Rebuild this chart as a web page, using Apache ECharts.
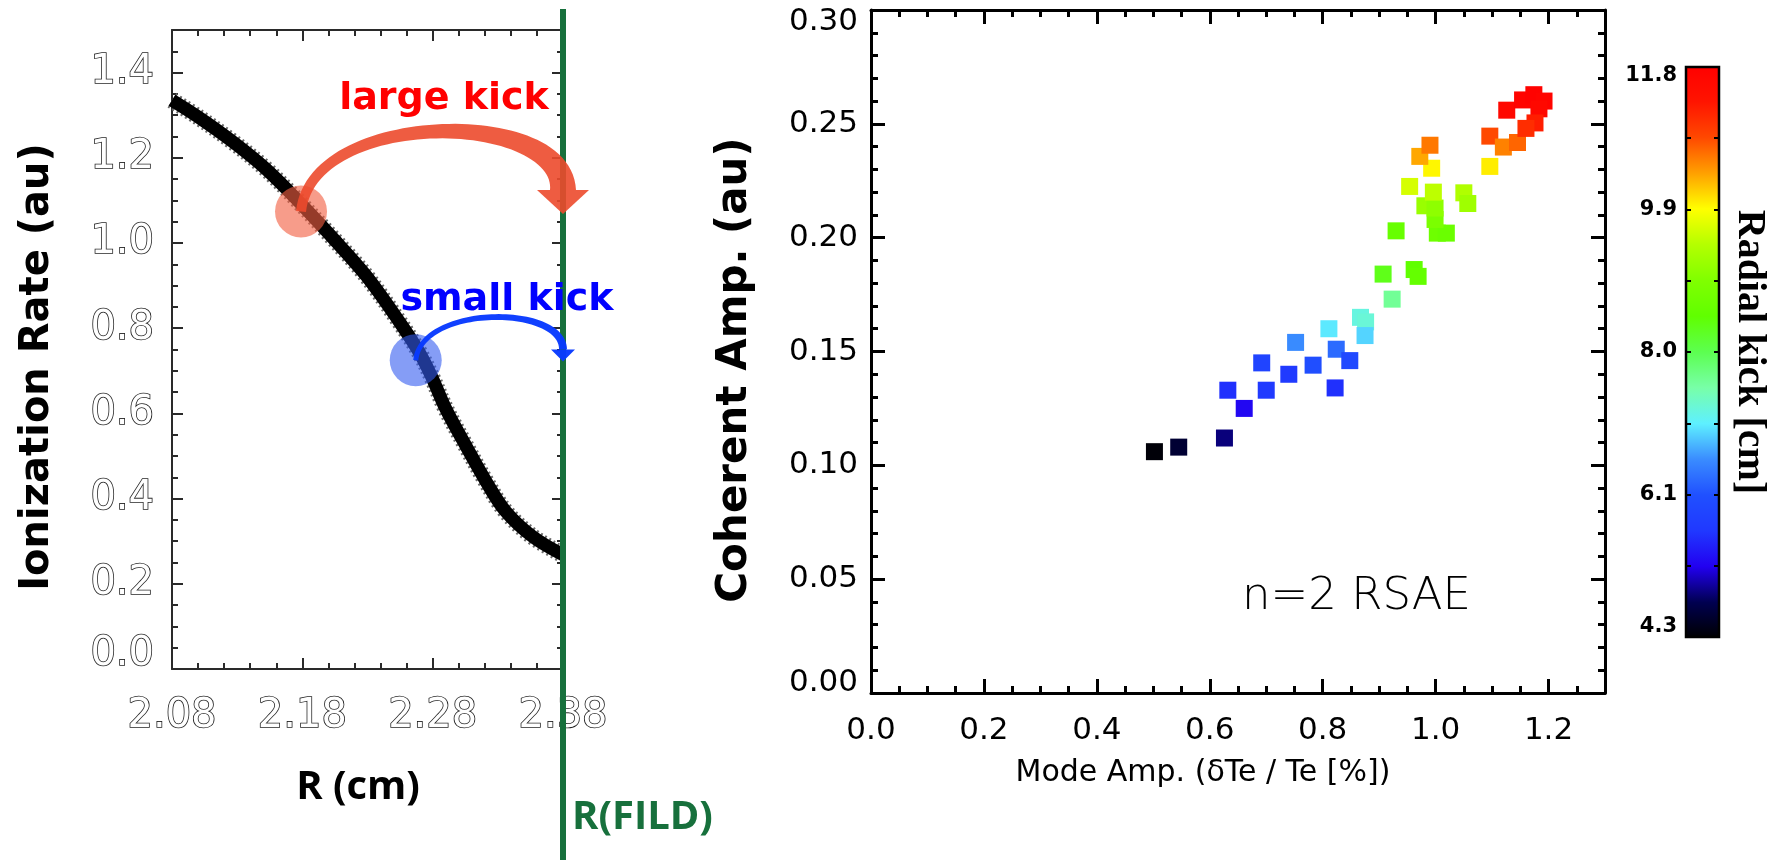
<!DOCTYPE html>
<html>
<head>
<meta charset="utf-8">
<script src="https://cdn.jsdelivr.net/npm/echarts@6/dist/echarts.min.js"></script>
<style>
  html, body { margin: 0; padding: 0; background: #fff; }
  #chart { width: 1777px; height: 860px; }
</style>
</head>
<body>
<div id="chart"></div>
<script>
// ---- Left panel: ionization rate profile ----
const radius  = [2.080, 2.100, 2.126, 2.152, 2.177, 2.203, 2.229, 2.254, 2.270, 2.280, 2.290, 2.306, 2.321, 2.336, 2.357, 2.380];
const ionRate = [1.335, 1.296, 1.239, 1.174, 1.098, 1.013, 0.923, 0.817, 0.742, 0.681, 0.611, 0.521, 0.440, 0.370, 0.310, 0.268];
const radiusRange = [2.08, 2.38];
const radiusStep = 0.1;
const rateRange = [0, 1.5];
const rateStep = 0.2;

// kick annotations: start on the profile, end at R(FILD)
const kickLabels = ['large kick', 'small kick'];
const kickFrom = [[2.179, 1.074], [2.267, 0.725]];
const kickTo   = [[2.380, 1.068], [2.380, 0.722]];
const kickApex = [1.262, 0.826];

// ---- Right panel: coherent amplitude vs mode amplitude, coloured by radial kick ----
const modeAmp = [0.502, 0.545, 0.626, 0.632, 0.661, 0.692, 0.700, 0.740, 0.752, 0.783,
                 0.811, 0.824, 0.822, 0.848, 0.867, 0.876, 0.875, 0.907, 0.923, 0.962,
                 0.969, 0.930, 1.003, 1.019, 0.999, 0.981, 0.999, 0.996, 0.954, 1.050,
                 1.057, 0.993, 0.972, 0.990, 1.096, 1.096, 1.120, 1.145, 1.126, 1.154,
                 1.174, 1.192, 1.183, 1.176, 1.160];
const coherentAmp = [0.106, 0.108, 0.112, 0.133, 0.125, 0.145, 0.133, 0.140, 0.154, 0.144,
                     0.160, 0.151, 0.134, 0.146, 0.165, 0.163, 0.157, 0.184, 0.173, 0.186,
                     0.183, 0.203, 0.202, 0.202, 0.208, 0.214, 0.213, 0.220, 0.2225, 0.2197,
                     0.215, 0.2305, 0.2357, 0.2406, 0.2313, 0.2446, 0.2398, 0.2418, 0.256, 0.2605,
                     0.2628, 0.260, 0.2566, 0.2504, 0.248];
const radialKick = [4.30, 4.55, 4.85, 5.60, 5.25, 5.90, 5.70, 5.70, 6.60, 6.10,
                    7.05, 6.35, 5.60, 6.00, 7.25, 7.30, 6.95, 8.35, 7.65, 8.50,
                    8.55, 8.60, 8.70, 8.65, 8.90, 9.20, 9.10, 9.50, 9.65, 9.40,
                    9.25, 9.95, 10.35, 10.60, 10.00, 10.85, 10.55, 10.70, 11.60, 11.70,
                    11.75, 11.70, 11.60, 11.25, 11.10];
const modeRange = [0, 1.3];
const modeStep = 0.2;
const coherentRange = [0, 0.30];
const coherentStep = 0.05;
const kickRange = [4.25, 11.8];
// rainbow colour table, evenly spaced from kickRange[0] to kickRange[1]
const kickColors = ['#000000', '#000050', '#2200f0', '#2038ff', '#2050ff', '#3a8cff', '#5ef0ff',
                    '#78ffa8', '#5cff50', '#60ff00', '#80ff00', '#b4ff00', '#ffff00', '#ffa000',
                    '#ff4800', '#ff1400', '#ff0000'];

// ---------------------------------------------------------------
const chart = echarts.init(document.getElementById('chart'), null, { renderer: 'canvas' });

const leftFrame  = { left: 172, top: 30, width: 391, height: 639 };
const rightFrame = { left: 871, top: 10, width: 734, height: 683 };
const barFrame   = { left: 1686, top: 67, width: 33, height: 570 };

const leftInk  = { color: '#2a2a2a', line: 2, tick: 2 };
const rightInk = { color: '#000', line: 3, tick: 3 };

function axis(gridIndex, position, range, step, tickLen, ink, showLine, label) {
  return {
    type: 'value', gridIndex, position, min: range[0], max: range[1], interval: step,
    axisLine: { show: showLine, onZero: false, lineStyle: { color: ink.color, width: ink.line } },
    axisTick: { show: true, inside: true, length: tickLen, lineStyle: { color: ink.color, width: ink.tick } },
    axisLabel: label || { show: false },
    splitLine: { show: false },
    axisPointer: { show: false }
  };
}

// outlined ("hollow") numerals of the profile panel
const hollowLabel = {
  fontFamily: 'DejaVu Sans', fontSize: 40, color: '#fff',
  textBorderColor: '#1e1e1e', textBorderWidth: 1.6
};

const xAxes = [
  // left panel, major ticks + labels
  axis(0, 'bottom', radiusRange, radiusStep, 11, leftInk, true,
       Object.assign({ show: true, margin: 28, formatter: v => v.toFixed(2) }, hollowLabel)),
  axis(0, 'top', radiusRange, radiusStep, 11, leftInk, true),
  // left panel, minor ticks
  axis(1, 'bottom', radiusRange, 0.02, 6, leftInk, false),
  axis(1, 'top', radiusRange, 0.02, 6, leftInk, false),
  // right panel, major ticks + labels
  axis(2, 'bottom', modeRange, modeStep, 14, rightInk, true,
       { show: true, margin: 22, fontFamily: 'DejaVu Sans', fontSize: 31, color: '#000',
         formatter: v => (v > modeRange[1] - 0.05 ? '' : v.toFixed(1)) }),
  axis(2, 'top', modeRange, modeStep, 14, rightInk, true),
  // right panel, minor ticks
  axis(3, 'bottom', modeRange, 0.05, 7, rightInk, false),
  axis(3, 'top', modeRange, 0.05, 7, rightInk, false),
  // colour bar (no visible x axis)
  { type: 'value', gridIndex: 4, min: 0, max: 1, show: false }
];

const yAxes = [
  axis(0, 'left', rateRange, rateStep, 11, leftInk, true,
       Object.assign({
         show: true, margin: 18,
         formatter: v => (v > 1.45 ? '' : (v === 0 ? '{lo|0.0}' : v.toFixed(1))),
         rich: { lo: { padding: [0, 0, 28, 0] } }
       }, hollowLabel)),
  axis(0, 'right', rateRange, rateStep, 11, leftInk, true),
  axis(1, 'left', rateRange, 0.05, 6, leftInk, false),
  axis(1, 'right', rateRange, 0.05, 6, leftInk, false),
  axis(2, 'left', coherentRange, coherentStep, 14, rightInk, true,
       { show: true, margin: 13, fontFamily: 'DejaVu Sans', fontSize: 31, color: '#000',
         formatter: v => {
           const s = v.toFixed(2);
           if (v === 0) return '{lo|' + s + '}';
           if (v > coherentRange[1] - 0.01) return '{hi|' + s + '}';
           return s;
         },
         rich: { lo: { padding: [0, 0, 20, 0] }, hi: { padding: [24, 0, 0, 0] } } }),
  axis(2, 'right', coherentRange, coherentStep, 14, rightInk, true),
  axis(3, 'left', coherentRange, 0.01, 7, rightInk, false),
  axis(3, 'right', coherentRange, 0.01, 7, rightInk, false),
  // colour bar scale
  {
    type: 'value', gridIndex: 4, position: 'left', min: kickRange[0], max: kickRange[1],
    interval: (kickRange[1] - kickRange[0]) / 4,
    axisLine: { show: false },
    axisTick: { show: true, inside: true, length: 5, lineStyle: { color: '#000', width: 2 } },
    minorTick: { show: true, splitNumber: 2, length: 5, lineStyle: { color: '#000', width: 2 } },
    splitLine: { show: false },
    axisLabel: {
      show: true, margin: 9, fontFamily: 'DejaVu Sans', fontWeight: 'bold', fontSize: 21, color: '#000',
      formatter: v => {
        const s = v.toFixed(1);
        if (v === kickRange[0]) return '{lo|' + s + '}';
        if (v === kickRange[1]) return '{hi|' + s + '}';
        return s;
      },
      rich: { lo: { padding: [0, 0, 20, 0] }, hi: { padding: [18, 0, 0, 0] } }
    }
  },
  {
    type: 'value', gridIndex: 4, position: 'right', min: kickRange[0], max: kickRange[1],
    interval: (kickRange[1] - kickRange[0]) / 4,
    axisLine: { show: false },
    axisTick: { show: true, inside: true, length: 5, lineStyle: { color: '#000', width: 2 } },
    minorTick: { show: true, splitNumber: 2, length: 5, lineStyle: { color: '#000', width: 2 } },
    splitLine: { show: false },
    axisLabel: { show: false }
  }
];

const barGradient = new echarts.graphic.LinearGradient(0, 1, 0, 0,
  kickColors.map((c, i) => ({ offset: i / (kickColors.length - 1), color: c })));

const profile = radius.map((r, i) => [r, ionRate[i]]);
const scatterData = modeAmp.map((x, i) => [x, coherentAmp[i], radialKick[i]]);
const kickData = kickFrom.map((p, i) => [p[0], p[1], kickTo[i][0], kickTo[i][1], kickApex[i]]);

// drawing style of the two kick arrows
const kickFill   = ['rgba(236,74,44,0.9)', 'rgba(8,58,255,0.97)'];
const circleFill = ['rgba(242,96,66,0.62)', 'rgba(52,92,240,0.6)'];
const arrowGeom  = [
  { r: 26, w0: 5, w1: 13, headLen: 24, headHalf: 26 },
  { r: 26, w0: 2.5, w1: 4, headLen: 12, headHalf: 12 }
];

function renderKick(params, api) {
  const i = params.dataIndex;
  const g = arrowGeom[i];
  const p0 = api.coord([api.value(0), api.value(1)]);
  const tip = api.coord([api.value(2), api.value(3)]);
  const apexY = api.coord([api.value(0), api.value(4)])[1];
  const base = [tip[0], tip[1] - g.headLen];
  const c = (8 * apexY - p0[1] - base[1]) / 6;
  const P = [p0, [p0[0] + 0.04 * (base[0] - p0[0]), c], [base[0], c], base];
  const side1 = [], side2 = [];
  const N = 60;
  for (let k = 0; k <= N; k++) {
    const t = k / N, u = 1 - t;
    const x = u * u * u * P[0][0] + 3 * u * u * t * P[1][0] + 3 * u * t * t * P[2][0] + t * t * t * P[3][0];
    const y = u * u * u * P[0][1] + 3 * u * u * t * P[1][1] + 3 * u * t * t * P[2][1] + t * t * t * P[3][1];
    const dx = 3 * u * u * (P[1][0] - P[0][0]) + 6 * u * t * (P[2][0] - P[1][0]) + 3 * t * t * (P[3][0] - P[2][0]);
    const dy = 3 * u * u * (P[1][1] - P[0][1]) + 6 * u * t * (P[2][1] - P[1][1]) + 3 * t * t * (P[3][1] - P[2][1]);
    const len = Math.hypot(dx, dy) || 1;
    const w = g.w0 + (g.w1 - g.w0) * t * t;
    const nx = -dy / len, ny = dx / len;
    side1.push([x + nx * w, y + ny * w]);
    side2.push([x - nx * w, y - ny * w]);
  }
  const body = side1.concat(side2.reverse());
  return {
    type: 'group',
    children: [
      { type: 'circle', shape: { cx: p0[0], cy: p0[1], r: g.r }, style: { fill: circleFill[i] } },
      { type: 'polygon', shape: { points: body }, style: { fill: kickFill[i] } },
      { type: 'polygon',
        shape: { points: [[base[0] - g.headHalf, base[1]], [base[0] + g.headHalf, base[1]], tip] },
        style: { fill: kickFill[i] } }
    ]
  };
}

const fildGreen = '#17703c';
const fildX = leftFrame.left + leftFrame.width;

const option = {
  animation: false,
  backgroundColor: '#fff',
  textStyle: { fontFamily: 'DejaVu Sans' },
  grid: [
    Object.assign({ containLabel: false }, leftFrame),
    Object.assign({ containLabel: false }, leftFrame),
    Object.assign({ containLabel: false }, rightFrame),
    Object.assign({ containLabel: false }, rightFrame),
    Object.assign({ containLabel: false, show: true, backgroundColor: barGradient,
                    borderColor: '#000', borderWidth: 2.5 }, barFrame)
  ],
  xAxis: xAxes,
  yAxis: yAxes,
  visualMap: {
    type: 'continuous', show: false, min: kickRange[0], max: kickRange[1],
    dimension: 2, seriesIndex: 3, inRange: { color: kickColors }
  },
  series: [
    { // textured fringe of the profile
      type: 'line', xAxisIndex: 0, yAxisIndex: 0, data: profile, smooth: 0.35,
      showSymbol: false, z: 2,
      lineStyle: { color: '#6a6a6a', width: 17, type: [2, 3] }
    },
    {
      type: 'line', xAxisIndex: 0, yAxisIndex: 0, data: profile, smooth: 0.35,
      showSymbol: false, z: 3,
      lineStyle: { color: '#000', width: 13 }
    },
    {
      type: 'custom', xAxisIndex: 0, yAxisIndex: 0, data: kickData, z: 6,
      renderItem: renderKick
    },
    {
      type: 'scatter', xAxisIndex: 4, yAxisIndex: 4, data: scatterData,
      symbol: 'rect', symbolSize: 17, z: 5, itemStyle: { opacity: 1 }
    }
  ],
  graphic: [
    { type: 'line', z: 4, shape: { x1: fildX, y1: 9, x2: fildX, y2: 860 },
      style: { stroke: fildGreen, lineWidth: 6 } },
    { type: 'text', x: 38, y: 367, rotation: Math.PI / 2,
      style: { text: 'Ionization Rate (au)', fontFamily: 'DejaVu Sans', fontWeight: 'bold', fontSize: 40,
               fill: '#000', textAlign: 'center', textVerticalAlign: 'middle' } },
    { type: 'text', x: 358, y: 788,
      style: { text: 'R (cm)', fontFamily: 'Open Sans', fontWeight: 'bold', fontSize: 40,
               fill: '#000', textAlign: 'center', textVerticalAlign: 'middle' } },
    { type: 'text', x: 572, y: 818,
      style: { text: 'R(FILD)', fontFamily: 'Open Sans', fontWeight: 'bold', fontSize: 40,
               fill: fildGreen, textAlign: 'left', textVerticalAlign: 'middle' } },
    { type: 'text', x: 444, y: 99, z: 10,
      style: { text: kickLabels[0], fontFamily: 'DejaVu Sans', fontWeight: 'bold', fontSize: 38,
               fill: '#ff0000', textAlign: 'center', textVerticalAlign: 'middle' } },
    { type: 'text', x: 507, y: 300, z: 10,
      style: { text: kickLabels[1], fontFamily: 'DejaVu Sans', fontWeight: 'bold', fontSize: 38,
               fill: '#0000ff', textAlign: 'center', textVerticalAlign: 'middle' } },
    { type: 'text', x: 735, y: 370, rotation: Math.PI / 2,
      style: { text: 'Coherent Amp. (au)', fontFamily: 'DejaVu Sans', fontWeight: 'bold', fontSize: 42,
               fill: '#000', textAlign: 'center', textVerticalAlign: 'middle' } },
    { type: 'text', x: 1203, y: 773,
      style: { text: 'Mode Amp. (\u03b4Te / Te [%])', fontFamily: 'DejaVu Sans', fontSize: 30,
               fill: '#000', textAlign: 'center', textVerticalAlign: 'middle' } },
    { type: 'text', x: 1242, y: 597,
      style: { text: 'n=2 RSAE', fontFamily: 'DejaVu Sans', fontWeight: 200, fontSize: 45,
               fill: '#000', textAlign: 'left', textVerticalAlign: 'middle' } },
    { type: 'text', x: 1749, y: 352, rotation: -Math.PI / 2,
      style: { text: 'Radial kick [cm]', fontFamily: 'Liberation Serif', fontWeight: 'bold', fontSize: 40,
               fill: '#000', textAlign: 'center', textVerticalAlign: 'middle' } }
  ]
};

chart.setOption(option);
</script>
</body>
</html>
